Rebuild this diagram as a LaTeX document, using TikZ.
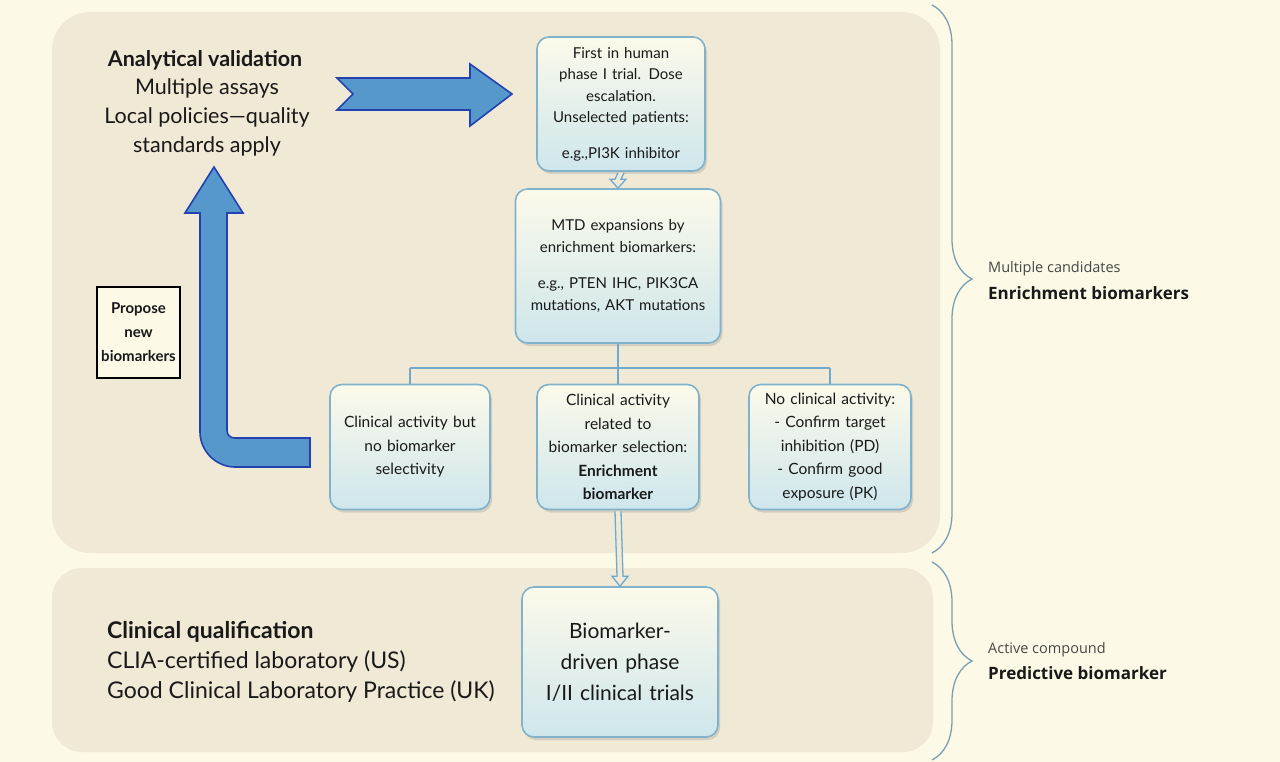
\documentclass[tikz,border=0pt]{standalone}
\usepackage{fontspec}
\setmainfont{Lato}
\newfontfamily\sidefont{Open Sans}
\usetikzlibrary{shadows,decorations.pathreplacing,arrows.meta,calc}
\definecolor{pagebg}{RGB}{252,249,230}
\definecolor{panel}{RGB}{240,233,213}
\definecolor{boxtop}{RGB}{252,250,234}
\definecolor{boxbot}{RGB}{206,230,236}
\definecolor{boxedge}{RGB}{128,178,204}
\definecolor{conn}{RGB}{110,170,205}
\definecolor{bigfill}{RGB}{86,152,204}
\definecolor{bigedge}{RGB}{35,65,175}
\definecolor{bracec}{RGB}{120,160,180}
\definecolor{txt}{RGB}{25,25,25}
\begin{document}
\begin{tikzpicture}[x=1pt,y=-1pt,
  stage/.style={rounded corners=12pt, draw=boxedge, line width=1.6pt, top color=boxtop, bottom color=boxbot,
    drop shadow={opacity=0.25,shadow xshift=2pt,shadow yshift=-3pt}, align=center, inner sep=3pt, text=txt,
    font=\fontsize{15}{21.5}\selectfont},
  panelbox/.style={fill=panel, rounded corners=38pt},
  bigarrow/.style={fill=bigfill, draw=bigedge, line width=1.6pt, line join=miter},
  tree/.style={draw=conn, line width=1.8pt},
  hollow/.style={draw=conn, fill=panel, line width=1.3pt, line join=miter},
  bracestyle/.style={draw=bracec, line width=1.3pt, decorate, decoration={brace, amplitude=40pt, aspect=0.5}},
  big/.style={text=txt, font=\fontsize{21.5}{29}\selectfont},
  bigb/.style={text=txt, font=\fontsize{21.5}{29}\selectfont\bfseries},
  low/.style={text=txt, font=\fontsize{23}{30}\selectfont, anchor=west, inner sep=0pt},
  side/.style={text=black!72, font=\sidefont\fontsize{14.5}{17}\selectfont, anchor=west, inner sep=0pt},
  sideb/.style={text=txt, font=\sidefont\fontsize{17}{20}\selectfont\bfseries, anchor=west, inner sep=0pt}
]
\useasboundingbox (0,0) rectangle (1280,762);
\fill[pagebg] (0,0) rectangle (1280,762);
% panels
\fill[panelbox] (52,12) rectangle (940,553);
\fill[panelbox, rounded corners=30pt] (52,568) rectangle (933,752);
% braces
\draw[bracestyle] (932,5) -- (932,553);
\draw[bracestyle] (932,562) -- (932,760);
\node[side] (mc) at (988,269) {Multiple candidates};
\node[sideb] (eb) at (988,293) {Enrichment biomarkers};
\node[side] (ac) at (988,650) {Active compound};
\node[sideb] (pb) at (988,673) {Predictive biomarker};

% left texts
\node[bigb] (av) at (205,60) {Analytical validation};
\node[big, align=center] (avt) at (207,117) {Multiple assays\\Local policies—quality\\standards apply};
\node[low, font=\fontsize{23}{30}\selectfont\bfseries] (cq) at (107,632) {Clinical qualification};
\node[low] (cl) at (107,662) {CLIA-certified laboratory (US)};
\node[low] (gc) at (107,692) {Good Clinical Laboratory Practice (UK)};

% propose box
\node[draw=black, line width=1.5pt, fill=pagebg, minimum width=83pt, minimum height=91pt, align=center,
  text=txt, font=\fontsize{15}{24}\selectfont\bfseries] (prop) at (138.5,332.5) {Propose\\new\\biomarkers};

% stage nodes
\node[stage, minimum width=168pt, minimum height=134pt, text width=160pt] (n1) at (621,104)
  {First in human\\phase I trial. Dose\\escalation.\\Unselected patients:\\[14pt]e.g.,PI3K inhibitor};
\node[stage, minimum width=205pt, minimum height=154pt, text width=196pt] (n2) at (618,266)
  {MTD expansions by\\enrichment biomarkers:\\[15pt]e.g., PTEN IHC, PIK3CA\\mutations, AKT mutations};
\node[stage, minimum width=160pt, minimum height=125pt, text width=152pt, font=\fontsize{15.5}{23.5}\selectfont] (n3) at (410,447)
  {Clinical activity but\\no biomarker\\selectivity};
\node[stage, minimum width=160pt, minimum height=125pt, text width=156pt, font=\fontsize{15.5}{23.5}\selectfont] (n4) at (618,447)
  {Clinical activity\\related to\\biomarker selection:\\\textbf{Enrichment}\\\textbf{biomarker}};
\node[stage, minimum width=160pt, minimum height=125pt, text width=156pt, font=\fontsize{15.5}{23.5}\selectfont] (n5) at (830,447)
  {No clinical activity:\\- Confirm target\\inhibition (PD)\\- Confirm good\\exposure (PK)};
\node[stage, minimum width=196pt, minimum height=150pt, text width=186pt, font=\fontsize{21}{31}\selectfont] (n6) at (620,662)
  {Biomarker-\\driven phase\\I/II clinical trials};

% connectors: hollow double arrows
\draw[hollow] ($(n1.south)+(-3,1)$) -- ($(n2.north)+(-3,-9)$) -- ($(n2.north)+(-8,-9)$) -- (n2.north)
  -- ($(n2.north)+(8,-9)$) -- ($(n2.north)+(3,-9)$) -- ($(n1.south)+(3,1)$);
\draw[hollow] ($(n4.south)+(-3,1)$) -- ($(n6.north)+(-3,-10)$) -- ($(n6.north)+(-8,-10)$) -- (n6.north)
  -- ($(n6.north)+(8,-10)$) -- ($(n6.north)+(3,-10)$) -- ($(n4.south)+(3,1)$);
\coordinate (jy) at (0,368);
\draw[tree] (n2.south) -- (n2.south |- jy);
\draw[tree] (n3.north |- jy) -- (n5.north |- jy);
\draw[tree] (n3.north |- jy) -- (n3.north);
\draw[tree] (n4.north |- jy) -- (n4.north);
\draw[tree] (n5.north |- jy) -- (n5.north);

% big arrows
\draw[bigarrow] (337,78) -- (470,78) -- (470,64) -- (512,94) -- (470,126) -- (470,110) -- (337,110) -- (353,94) -- cycle;
\draw[bigarrow] (214,167) -- (243,213) -- (227,213) -- (227,430) .. controls (227,435) and (230,438) .. (235,438)
  -- (310,438) -- (310,467) -- (235,467) .. controls (216,467) and (200,451) .. (200,432) -- (200,213) -- (185,213) -- cycle;
\end{tikzpicture}
\end{document}
